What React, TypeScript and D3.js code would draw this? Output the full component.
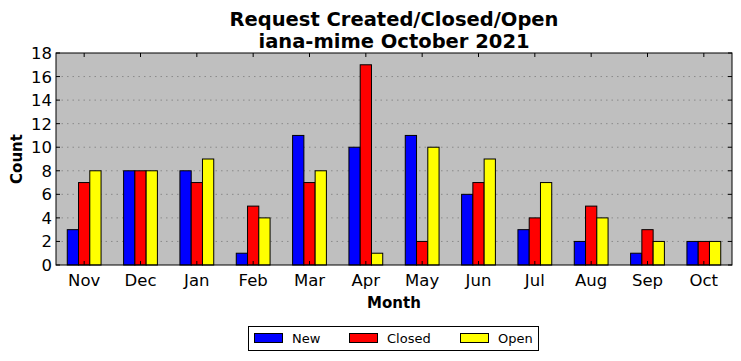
import React from "react";
import * as d3 from "d3";

const months = ["Nov", "Dec", "Jan", "Feb", "Mar", "Apr", "May", "Jun", "Jul", "Aug", "Sep", "Oct"];
const newVals = [3, 8, 8, 1, 11, 10, 11, 6, 3, 2, 1, 2];
const closedVals = [7, 8, 7, 5, 7, 17, 2, 7, 4, 5, 3, 2];
const openVals = [8, 8, 9, 4, 8, 1, 10, 9, 7, 4, 2, 2];
const yTicks = [0, 2, 4, 6, 8, 10, 12, 14, 16, 18];
const seriesNames = ["New", "Closed", "Open"];
const seriesColors = ["#0000ff", "#ff0000", "#ffff00"];

export default function App() {
  const W = 741, H = 361;
  const L = 56, R = 732, T = 53, B = 265;
  const x = d3.scaleBand().domain(months).range([L, R]).padding(0);
  const y = d3.scaleLinear().domain([0, 18]).range([B, T]);
  const step = x.step();
  const bw = step * 0.2;
  const series = [newVals, closedVals, openVals];
  const font = "DejaVu Sans, sans-serif";

  return (
    <svg width={W} height={H} style={{ position: "absolute", left: 0, top: 0 }} fontFamily={font}>
      <rect x={0} y={0} width={W} height={H} fill="#ffffff" />
      <rect x={L} y={T} width={R - L} height={B - T} fill="#bfbfbf" />
      {yTicks.slice(1, -1).map((t) => (
        <line key={t} x1={L} x2={R} y1={y(t)} y2={y(t)} stroke="#8a8a8a" strokeWidth={1} strokeDasharray="1.5,4" />
      ))}
      {series.map((vals, si) =>
        vals.map((v, i) => {
          const cx = x(months[i])! + step / 2 + (si - 1) * bw;
          return (
            <rect key={si + "-" + i} x={cx - bw / 2} y={y(v)} width={bw} height={y(0) - y(v)}
              fill={seriesColors[si]} stroke="#000" strokeWidth={1} />
          );
        })
      )}
      <rect x={L} y={T} width={R - L} height={B - T} fill="none" stroke="#000" strokeWidth={1} />
      {months.map((m) => {
        const cx = x(m)! + step / 2;
        return (
          <g key={m}>
            <line x1={cx} x2={cx} y1={B} y2={B - 4} stroke="#000" />
            <line x1={cx} x2={cx} y1={T} y2={T + 4} stroke="#000" />
            <text x={cx} y={B + 21} textAnchor="middle" fontSize={16.5}>{m}</text>
          </g>
        );
      })}
      {yTicks.map((t) => (
        <g key={t}>
          <line x1={L} x2={L + 4} y1={y(t)} y2={y(t)} stroke="#000" />
          <line x1={R} x2={R - 4} y1={y(t)} y2={y(t)} stroke="#000" />
          <text x={L - 4} y={y(t) + 6} textAnchor="end" fontSize={16.5}>{t}</text>
        </g>
      ))}
      <text x={(L + R) / 2} y={26} textAnchor="middle" fontSize={19.5} fontWeight="bold">Request Created/Closed/Open</text>
      <text x={(L + R) / 2} y={48} textAnchor="middle" fontSize={19.5} fontWeight="bold">iana-mime October 2021</text>
      <text x={(L + R) / 2} y={308} textAnchor="middle" fontSize={15} fontWeight="bold">Month</text>
      <text transform={`translate(22,${(T + B) / 2}) rotate(-90)`} textAnchor="middle" fontSize={15} fontWeight="bold">Count</text>
      <rect x={248.5} y={326.5} width={290} height={24} fill="#fff" stroke="#000" strokeWidth={1} />
      {seriesNames.map((n, i) => {
        const px = [254, 349, 460][i];
        return (
          <g key={n}>
            <rect x={px + 0.5} y={333.5} width={28} height={9} fill={seriesColors[i]} stroke="#000" strokeWidth={1} />
            <text x={px + 38} y={343} fontSize={13}>{n}</text>
          </g>
        );
      })}
    </svg>
  );
}
